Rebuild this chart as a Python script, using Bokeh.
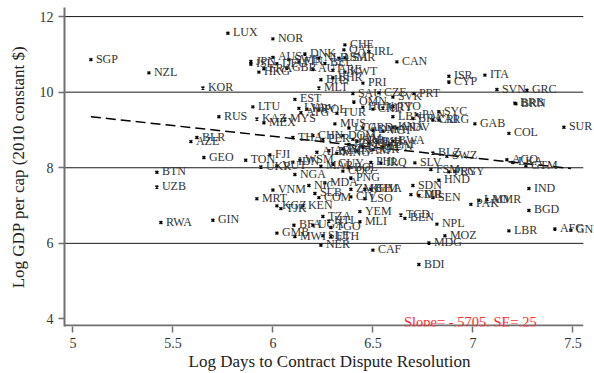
from bokeh.plotting import figure
from bokeh.models import ColumnDataSource, Range1d, FixedTicker, Label, LabelSet
from bokeh.embed import file_html
from bokeh.resources import INLINE

countries = ["SGP","NZL","KOR","LUX","NOR","RUS","BLR","AZE","GEO","BTN","UZB","RWA","GIN",
             "JPN","ISL","AUS","HKG","FRA","GBR","AUT","DNK","NLD","FIN","SWE","BEL","DEU","USA",
             "CHE","QAT","SMR","IRL","CAN","KWT","ARE","BHS","BHR","ISR","CYP","ITA","SVN","GRC",
             "BRB","BRN","MLT","PRI","PRT","SAU","CZE","SVK","OMN","EST","LTU","LVA","HRV","POL",
             "HUN","CHL","URY","TTO","ATG","TUR","BRA","PAN","CRI","ARG","SYC","LBN","MDV","GAB",
             "SUR","COL","KAZ","MEX","MYS","MUS","LCA","GRD","DMA","VCT","KNA","CHN","THA","PER",
             "DOM","JAM","SRB","MKD","BIH","IRN","ECU","TUN","DZA","JOR","NAM","ZAF","BWA","ALB",
             "ARM","MNG","FJI","TON","WSM","UKR","VUT","IDN","MAR","GUY","BOL","COG","PNG","NGA",
             "MDA","NIC","VNM","MRT","SLB","COM","ZMB","KHM","GHA","CIV","LSO","YEM","KGZ","TJK",
             "KEN","TZA","SLE","ETH","TGO","MLI","HTI","BFA","UGA","MWI","GMB","NER","CAF","TCD",
             "BEN","NPL","MOZ","MDG","BDI","LBR","AFG","GNB","IND","BGD","PAK","MMR","LAO","CMR",
             "DJI","SEN","SDN","HND","FSM","PRY","EGY","SLV","BLZ","SWZ","AGO","LKA","GTM","PHL",
             "IRQ"]

log_days = [5.09, 5.38, 5.65, 5.775, 6.00, 5.73, 5.62, 5.59, 5.655, 5.42, 5.42, 5.44, 5.70,
            5.89, 5.89, 6.00, 5.93, 5.955, 6.07, 6.20, 6.16, 6.23, 6.13, 6.08, 6.26, 6.02, 6.33,
            6.36, 6.355, 6.36, 6.48, 6.62, 6.36, 6.30, 6.24, 6.30, 6.88, 6.88, 7.06, 7.12, 7.27,
            7.21, 7.215, 6.23, 6.45, 6.705, 6.40, 6.53, 6.60, 6.405, 6.11, 5.90, 6.13, 6.17, 6.23,
            6.45, 6.50, 6.55, 6.60, 6.14, 6.32, 6.70, 6.72, 6.80, 6.83, 6.83, 6.60, 6.62, 7.01,
            7.455, 7.18, 5.92, 5.955, 6.06, 6.31, 6.38, 6.45, 6.50, 6.55, 6.60, 6.20, 6.10, 6.25,
            6.35, 6.40, 6.42, 6.48, 6.52, 6.38, 6.45, 6.55, 6.35, 6.50, 6.42, 6.58, 6.60, 6.22,
            6.28, 6.32, 5.985, 5.864, 6.135, 5.94, 6.02, 6.10, 6.24, 6.30, 6.38, 6.35, 6.39, 6.11,
            6.26, 6.18, 6.00, 5.92, 6.21, 6.23, 6.39, 6.46, 6.49, 6.39, 6.46, 6.435, 6.02, 6.04,
            6.15, 6.25, 6.25, 6.29, 6.29, 6.435, 6.28, 6.105, 6.20, 6.11, 6.02, 6.24, 6.50, 6.64,
            6.66, 6.82, 6.86, 6.78, 6.73, 7.18, 7.41, 7.49, 7.28, 7.28, 6.99, 7.07, 7.03, 6.69,
            6.73, 6.80, 6.70, 6.83, 6.79, 6.88, 6.91, 6.71, 6.80, 6.87, 7.17, 7.20, 7.265, 6.49,
            6.54]

log_gdp = [10.86, 10.51, 10.11, 11.56, 11.41, 9.35, 8.80, 8.69, 8.27, 7.88, 7.49, 6.55, 6.61,
           10.81, 10.74, 10.92, 10.53, 10.62, 10.64, 10.60, 11.01, 10.90, 10.80, 10.86, 10.76, 10.75, 10.90,
           11.25, 11.12, 10.91, 11.07, 10.80, 10.53, 10.58, 10.33, 10.38, 10.42, 10.27, 10.45, 10.07, 10.05,
           9.71, 9.69, 10.11, 10.24, 9.96, 9.96, 9.98, 9.87, 9.74, 9.81, 9.61, 9.57, 9.55, 9.53,
           9.60, 9.55, 9.58, 9.62, 9.46, 9.44, 9.30, 9.40, 9.27, 9.26, 9.48, 9.35, 9.05, 9.16,
           9.07, 8.91, 9.29, 9.19, 9.29, 9.16, 9.05, 9.05, 9.00, 8.97, 9.07, 8.85, 8.80, 8.75,
           8.85, 8.75, 8.70, 8.65, 8.68, 8.62, 8.55, 8.55, 8.50, 8.48, 8.45, 8.60, 8.70, 8.41,
           8.45, 8.38, 8.34, 8.20, 8.20, 8.02, 8.05, 8.15, 8.04, 8.10, 8.00, 7.91, 7.73, 7.82,
           7.60, 7.53, 7.41, 7.18, 7.32, 7.21, 7.43, 7.43, 7.43, 7.23, 7.18, 6.84, 6.99, 6.92,
           6.99, 6.71, 6.20, 6.18, 6.42, 6.57, 6.59, 6.48, 6.48, 6.18, 6.27, 5.95, 5.82, 6.75,
           6.66, 6.51, 6.20, 6.01, 5.44, 6.33, 6.38, 6.35, 7.45, 6.87, 7.03, 7.16, 7.14, 7.29,
           7.27, 7.21, 7.53, 7.67, 7.95, 7.89, 7.90, 8.13, 8.39, 8.30, 8.21, 8.14, 8.05, 8.14,
           8.12]

fit_slope = -0.5705
fit_intercept = 12.254
slope_text = "Slope= -.5705, SE=.25"

x_ticks = [5, 5.5, 6, 6.5, 7, 7.5]
x_tick_labels = ["5", "5.5", "6", "6.5", "7", "7.5"]
y_ticks = [4, 6, 8, 10, 12]
y_tick_labels = ["4", "6", "8", "10", "12"]
grid_ticks = [6, 8, 10, 12]

# axis extent (the plot region ends at x_axis_end; the canvas runs a bit further right)
x_axis_start, x_axis_end, x_canvas_end = 4.958, 7.552, 7.608
y_axis_start, y_axis_end = 3.80, 12.24

SERIF = "Liberation Serif"
AXIS_GRAY = "#707070"

p = figure(width=594, height=373, x_range=Range1d(x_axis_start, x_canvas_end),
           y_range=Range1d(y_axis_start, y_axis_end),
           output_backend="svg", toolbar_location=None,
           min_border_left=64, min_border_right=0, min_border_top=7, min_border_bottom=45)
p.outline_line_color = None
p.background_fill_color = "white"
p.border_fill_color = "white"

p.xgrid.visible = False
p.ygrid.visible = False

for ax in (p.xaxis[0], p.yaxis[0]):
    ax.axis_line_color = AXIS_GRAY
    ax.axis_line_width = 2
    ax.major_tick_line_color = AXIS_GRAY
    ax.major_tick_line_width = 1.5
    ax.major_tick_in = 0
    ax.major_tick_out = 6
    ax.minor_tick_line_color = None
    ax.major_label_text_font = SERIF
    ax.major_label_text_font_size = "14px"
    ax.major_label_text_color = "#333333"
    ax.axis_label_text_font = SERIF
    ax.axis_label_text_font_size = "17px"
    ax.axis_label_text_font_style = "normal"
    ax.axis_label_text_color = "#222222"

p.xaxis.axis_line_color = None
p.xaxis.ticker = FixedTicker(ticks=x_ticks)
p.xaxis.major_label_overrides = {t: l for t, l in zip(x_ticks, x_tick_labels)}
p.xaxis.axis_label = "Log Days to Contract Dispute Resolution"
p.xaxis.major_label_standoff = 5
p.xaxis.axis_label_standoff = 1

p.yaxis.ticker = FixedTicker(ticks=y_ticks)
p.yaxis.major_label_overrides = {t: l for t, l in zip(y_ticks, y_tick_labels)}
p.yaxis.axis_label = "Log GDP per cap (2010 constant $)"
p.yaxis.major_label_orientation = "horizontal"
p.yaxis.major_label_standoff = 5
p.yaxis.axis_label_standoff = 9

# horizontal reference lines, ending where the x axis ends
p.segment(x0=[x_axis_start] * len(grid_ticks), x1=[x_axis_end] * len(grid_ticks),
          y0=grid_ticks, y1=grid_ticks, line_color="#1a1a1a", line_width=1)
# bottom axis line (kept inside the plot region)
p.segment(x0=[x_axis_start], x1=[x_axis_end], y0=[y_axis_start + 0.026], y1=[y_axis_start + 0.026],
          line_color=AXIS_GRAY, line_width=2)

src = ColumnDataSource(dict(x=log_days, y=log_gdp, code=countries))

xf = [min(log_days), max(log_days)]
yf = [fit_intercept + fit_slope * v for v in xf]
p.line(xf, yf, line_dash="10 5", line_color="black", line_width=1.5)

p.scatter(x="x", y="y", source=src, marker="x", size=4, line_width=1.5, color="black")
p.add_layout(LabelSet(x="x", y="y", text="code", source=src, x_offset=5, y_offset=1,
                      text_baseline="middle", text_align="left",
                      text_font=SERIF, text_font_size="12px", text_color="#333333"))

p.add_layout(Label(x=6.655, y=3.93, text=slope_text, text_color="#ff2a2a",
                   text_font=SERIF, text_font_size="14.5px", text_baseline="middle"))

open("out.html", "w").write(file_html(p, INLINE))
